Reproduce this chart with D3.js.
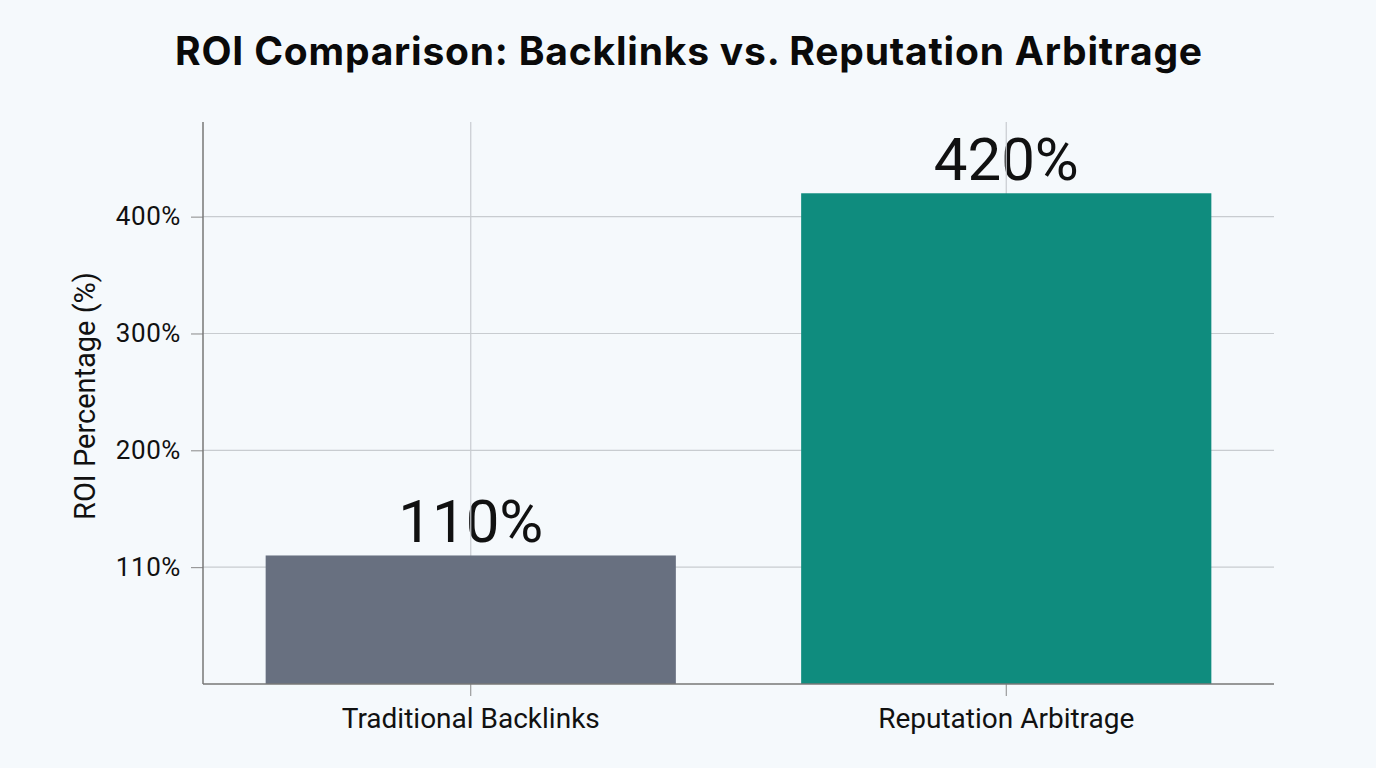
<!DOCTYPE html>
<html>
<head>
<meta charset="utf-8">
<script src="https://cdn.jsdelivr.net/npm/d3@7"></script>
<style>
  body { margin: 0; background: #f5f9fc; }
  text { font-family: Roboto, "Noto Sans", sans-serif; fill: #111; }
</style>
</head>
<body>
<script>
const categories = ['Traditional Backlinks', 'Reputation Arbitrage']
const roiValues = [110, 420]
const barLabels = ['110%', '420%']
const tickValues = [100, 200, 300, 400]
const tickLabels = ['110%', '200%', '300%', '400%']
const barColors = ['#687080', '#0f8c7e']

const margin = { top: 122, right: 102, bottom: 84, left: 203 }
const width = 1376 - margin.left - margin.right
const height = 768 - margin.top - margin.bottom

const root = d3.select('body').append('svg')
    .attr('width', 1376)
    .attr('height', 768)
    .style('background-color', '#f5f9fc')

root.append('text')
    .attr('x', 689)
    .attr('y', 65)
    .style('text-anchor', 'middle')
    .style('font-family', 'Inter, Roboto, sans-serif')
    .style('font-size', '39px')
    .style('font-weight', 'bold')
    .style('letter-spacing', '0.8px')
    .style('fill', '#0a0a0a')
    .text('ROI Comparison: Backlinks vs. Reputation Arbitrage')

const svg = root.append('g')
    .attr('transform', `translate(${margin.left}, ${margin.top})`)

const xScale = d3.scaleBand()
    .domain(categories)
    .range([0, width])
    .paddingInner(0.234)
    .paddingOuter(0.117)

const yScale = d3.scaleLinear()
    .domain([0, 481])
    .range([height, 0])

// value labels sit under the grid lines, like the original
svg.selectAll('.value')
    .data(roiValues)
    .enter().append('text')
    .attr('class', 'value')
    .attr('x', (d, i) => xScale(categories[i]) + xScale.bandwidth() / 2)
    .attr('y', d => yScale(d) - 13)
    .style('text-anchor', 'middle')
    .style('font-size', '60px')
    .text((d, i) => barLabels[i])

// grid
svg.append('g')
    .selectAll('line')
    .data(tickValues)
    .enter().append('line')
    .attr('x1', 0)
    .attr('x2', width)
    .attr('y1', d => yScale(d))
    .attr('y2', d => yScale(d))
    .style('stroke', '#c8ccd0')
    .style('stroke-width', 1.2)

svg.append('g')
    .selectAll('line')
    .data(categories)
    .enter().append('line')
    .attr('x1', d => xScale(d) + xScale.bandwidth() / 2)
    .attr('x2', d => xScale(d) + xScale.bandwidth() / 2)
    .attr('y1', 0)
    .attr('y2', height)
    .style('stroke', '#c8ccd0')
    .style('stroke-width', 1.2)

svg.selectAll('.bar')
    .data(roiValues)
    .enter().append('rect')
    .attr('class', 'bar')
    .attr('x', (d, i) => xScale(categories[i]))
    .attr('y', d => yScale(d))
    .attr('width', xScale.bandwidth())
    .attr('height', d => height - yScale(d))
    .style('fill', (d, i) => barColors[i])

const yAxis = svg.append('g')
    .attr('class', 'y axis')
    .call(d3.axisLeft(yScale)
        .tickValues(tickValues)
        .tickFormat((d, i) => tickLabels[i])
        .tickSize(12)
        .tickPadding(10)
        .tickSizeOuter(0))
yAxis.select('.domain').remove()
yAxis.selectAll('.tick line').style('stroke', '#888')
yAxis.selectAll('.tick text')
    .style('font-size', '26px')
    .style('letter-spacing', '0.6px')
    .style('font-family', 'Roboto, sans-serif')
    .style('fill', '#111')

const xAxis = svg.append('g')
    .attr('class', 'x axis')
    .attr('transform', `translate(0, ${height})`)
    .call(d3.axisBottom(xScale)
        .tickSize(12)
        .tickPadding(12)
        .tickSizeOuter(0))
xAxis.select('.domain').remove()
xAxis.selectAll('.tick line').style('stroke', '#888')
xAxis.selectAll('.tick text')
    .style('font-size', '28px')
    .style('font-family', 'Roboto, sans-serif')
    .style('fill', '#111')

// axis lines
svg.append('line')
    .attr('x1', 0).attr('x2', 0)
    .attr('y1', 0).attr('y2', height)
    .style('stroke', '#777')
    .style('stroke-width', 1.5)
svg.append('line')
    .attr('x1', 0).attr('x2', width)
    .attr('y1', height).attr('y2', height)
    .style('stroke', '#777')
    .style('stroke-width', 1.5)

svg.append('text')
    .attr('transform', 'rotate(-90)')
    .attr('x', -274)
    .attr('y', -108)
    .style('text-anchor', 'middle')
    .style('font-size', '29px')
    .text('ROI Percentage (%)')
</script>
</body>
</html>
